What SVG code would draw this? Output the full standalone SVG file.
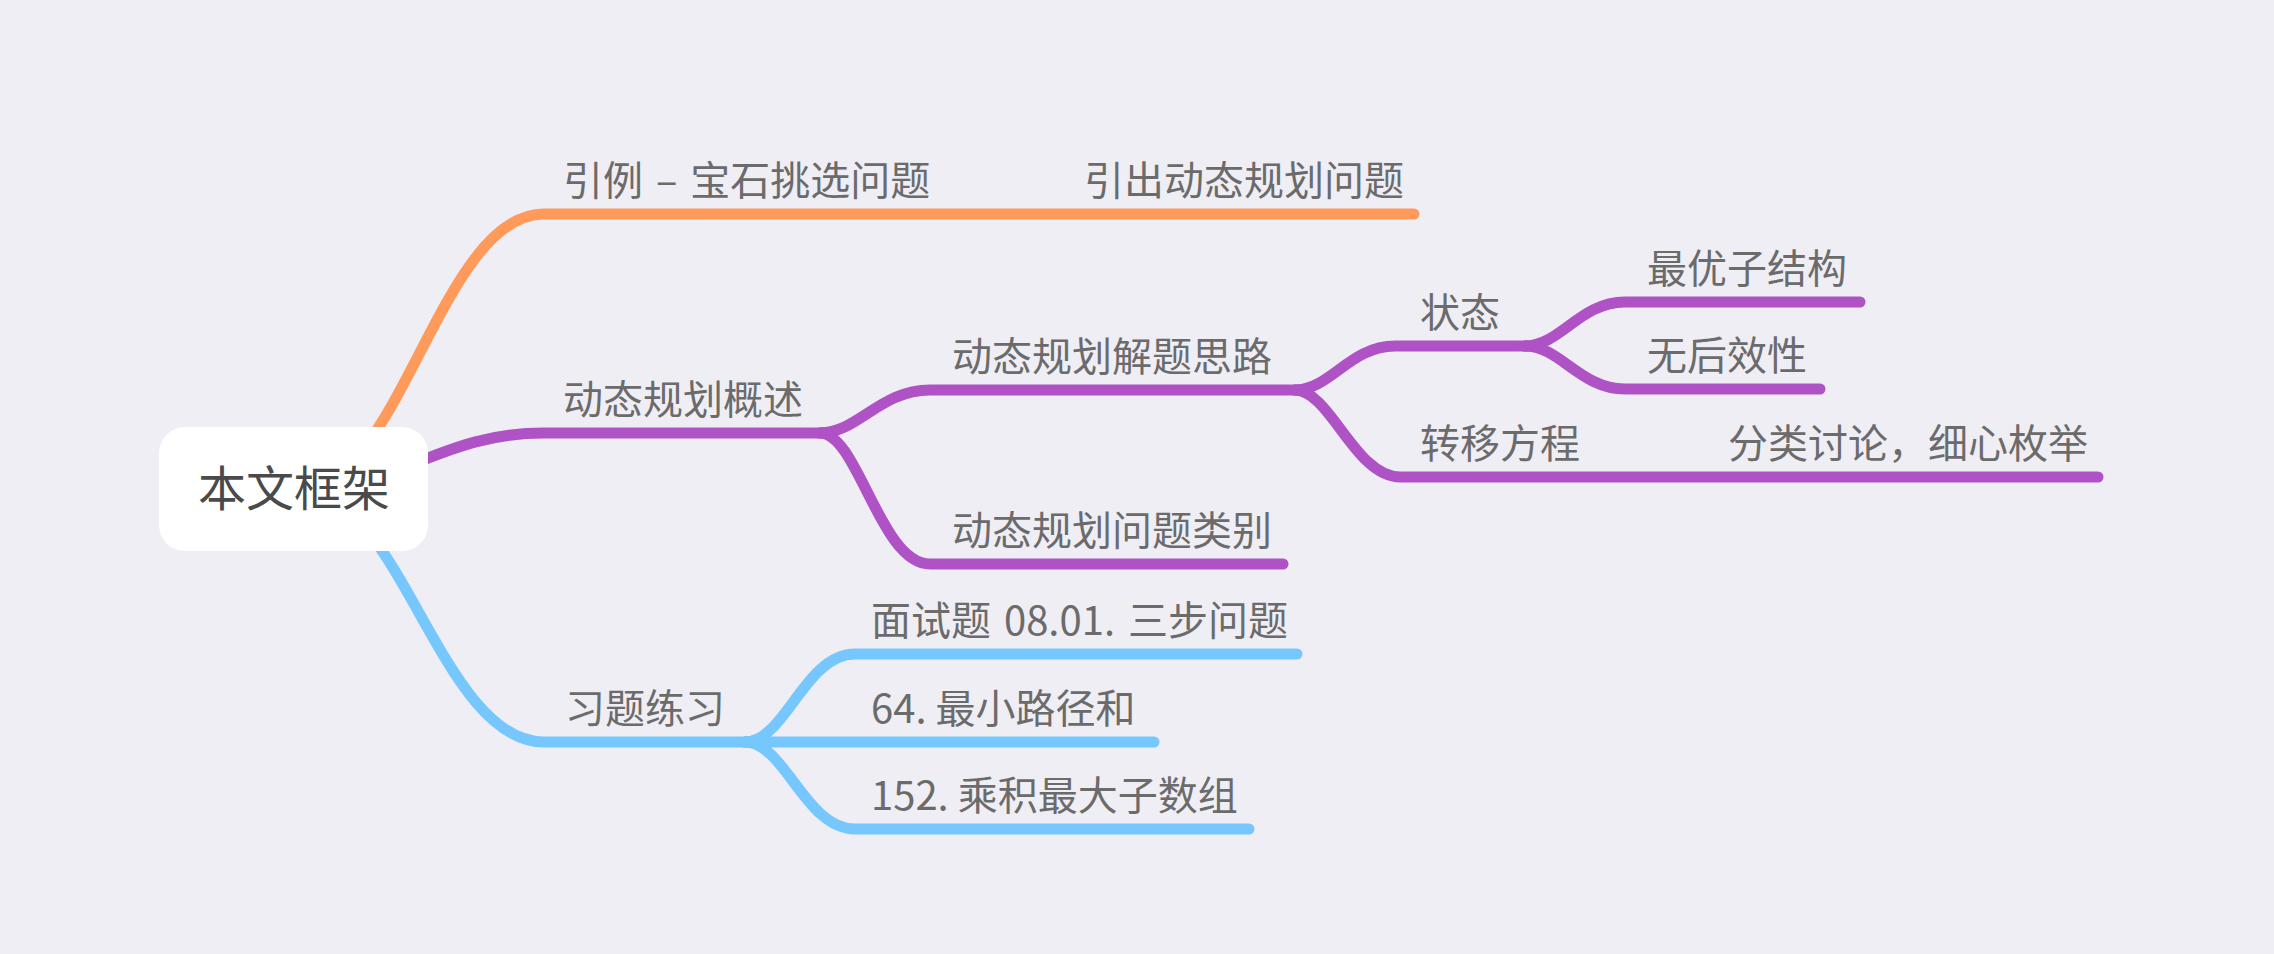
<svg xmlns="http://www.w3.org/2000/svg" width="2274" height="954" viewBox="0 0 2274 954">
<style>
.bg{fill:#efeef5}
.c{fill:none;stroke-width:11;stroke-linecap:round;stroke-linejoin:round}
.o{stroke:#ff9a5b}
.p{stroke:#ae52c6}
.b{stroke:#77c7ff}
.t{font-family:"Noto Sans CJK SC","Noto Sans",sans-serif;font-size:40px;fill:#6b6b6b}
.r{font-family:"Noto Sans CJK SC","Noto Sans",sans-serif;font-size:48px;fill:#4a4a4a}
.ws{word-spacing:4px}
</style>
<rect class="bg" x="0" y="0" width="2274" height="954"/>
<g id="connectors">
<path class="c o" d="M300 489 C400 489 440 214 544 214 L1414 214"/>
<path class="c p" d="M300 489 C400 489 440 433 544 433 L827 433"/>
<path class="c b" d="M300 489 C400 489 440 742 544 742 L752 742"/>
<path class="c p" d="M820 433 C858 433 880 390 930 390 L1300 390"/>
<path class="c p" d="M820 433 C858 433 880 564 930 564 L1283 564"/>
<path class="c p" d="M1295 390 C1330 390 1350 346 1395 346 L1530 346"/>
<path class="c p" d="M1295 390 C1330 390 1355 477 1400 477 L2098 477"/>
<path class="c p" d="M1525 346 C1560 346 1580 302 1625 302 L1860 302"/>
<path class="c p" d="M1525 346 C1560 346 1580 389 1625 389 L1820 389"/>
<path class="c b" d="M745 742 C785 742 805 654 855 654 L1297 654"/>
<path class="c b" d="M745 742 L1154 742"/>
<path class="c b" d="M745 742 C785 742 805 829 855 829 L1249 829"/>
</g>
<g id="root">
<rect x="159" y="427" width="269" height="124" rx="26" fill="#ffffff"/>
<text class="r" x="294" y="506" text-anchor="middle">本文框架</text>
</g>
<g id="n-yinli"><text class="t ws" x="563" y="195">引例 – 宝石挑选问题</text></g>
<g id="n-yinchu"><text class="t" x="1084" y="195">引出动态规划问题</text></g>
<g id="n-gaishu"><text class="t" x="563" y="414">动态规划概述</text></g>
<g id="n-silu"><text class="t" x="952" y="371">动态规划解题思路</text></g>
<g id="n-leibie"><text class="t" x="952" y="545">动态规划问题类别</text></g>
<g id="n-zhuangtai"><text class="t" x="1420" y="327">状态</text></g>
<g id="n-zuiyou"><text class="t" x="1647" y="283">最优子结构</text></g>
<g id="n-wuhou"><text class="t" x="1647" y="370">无后效性</text></g>
<g id="n-zhuanyi"><text class="t" x="1420" y="458">转移方程</text></g>
<g id="n-fenlei"><text class="t" x="1728" y="458">分类讨论，细心枚举</text></g>
<g id="n-xiti"><text class="t" x="565" y="723">习题练习</text></g>
<g id="n-mianshi"><text class="t ws" x="871" y="635">面试题 08.01. 三步问题</text></g>
<g id="n-64"><text class="t" x="871" y="723">64. 最小路径和</text></g>
<g id="n-152"><text class="t" x="871" y="810">152. 乘积最大子数组</text></g>
</svg>
